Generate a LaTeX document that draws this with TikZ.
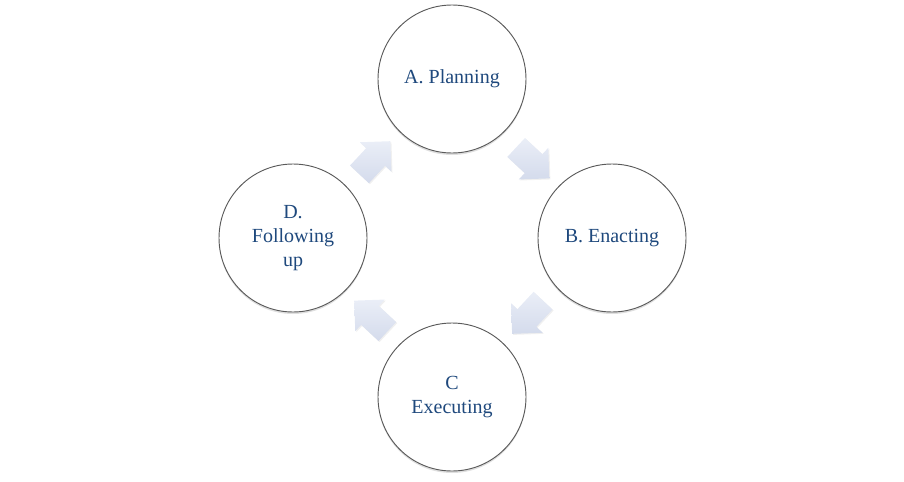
\documentclass[tikz,border=0pt]{standalone}
\usepackage{fontspec}
\setmainfont{Liberation Serif}
\usepackage{tikz}
\usetikzlibrary{shapes.arrows, calc, shadows}
\definecolor{stagetext}{RGB}{31,73,125}
\definecolor{stageline}{RGB}{90,90,90}
\definecolor{arrowtop}{RGB}{234,238,247}
\definecolor{arrowbot}{RGB}{212,219,236}
\tikzset{stage/.style={shape=circle, draw=stageline, line width=.7pt, fill=white,
    minimum size=111pt, inner sep=0pt, align=center, text=stagetext,
    font=\fontsize{15}{18}\selectfont,
    drop shadow={shadow xshift=0pt, shadow yshift=-1.5pt, opacity=.25}}}
\tikzset{turn/.style={shape=single arrow, draw=none, top color=arrowtop,
    bottom color=arrowbot, minimum height=34pt, inner xsep=0pt, inner ysep=9.5pt,
    single arrow head extend=6.5pt, single arrow head indent=0pt,
    drop shadow={shadow xshift=.8pt, shadow yshift=-.8pt, opacity=.12}}}

\begin{document}
\begin{tikzpicture}[x=.75pt,y=-.75pt]
    \useasboundingbox (0,0) rectangle (904,482);
    \node[stage] (plan) at (452,79) {A. Planning};
    \node[stage] (enact) at (612,238) {B. Enacting};
    \node[stage] (exec) at (452,397) {C\\Executing};
    \node[stage] (follow) at (293,238) {D.\\Following\\up};
    \node[turn, rotate=-43] (ab) at ($(plan)!.5!(enact)+(-4,0)$) {};
    \node[turn, rotate=-133] (bc) at ($(enact)!.5!(exec)+(0,-5)$) {};
    \node[turn, rotate=137] (cd) at ($(exec)!.5!(follow)+(3,3)$) {};
    \node[turn, rotate=47] (da) at ($(follow)!.5!(plan)+(-2,4)$) {};
  \end{tikzpicture}
\end{document}
